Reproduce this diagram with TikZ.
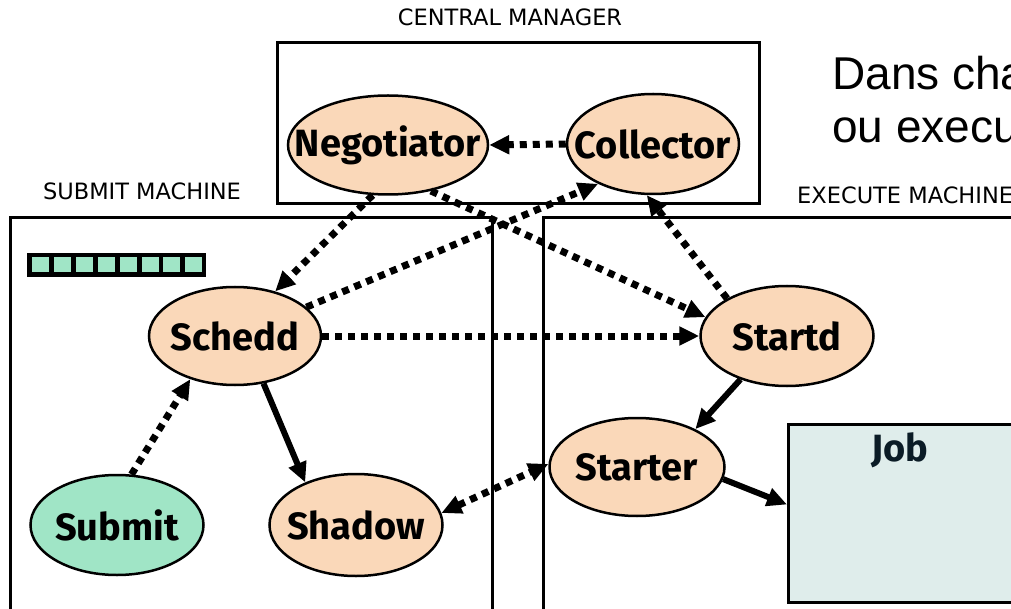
\documentclass[tikz,border=0pt]{standalone}
\usepackage{fontspec}
\setmainfont{DejaVu Sans}
\newfontfamily\nodefont{Fira Sans}
\newfontfamily\bigfont{Liberation Sans}
\usetikzlibrary{arrows.meta,calc,shapes.geometric}
\definecolor{peach}{HTML}{FAD8B9}
\definecolor{mint}{HTML}{A0E5C6}
\definecolor{jobfill}{HTML}{DFEDEB}
\definecolor{jobtext}{HTML}{0B1C26}
\newcommand{\ztext}[1]{\makebox[0pt]{#1}}
\tikzset{
  >={Triangle[length=20pt,width=18pt]},
  proc/.style={ellipse, draw=black, line width=2.5pt, fill=peach, inner sep=0pt,
    font=\nodefont\bfseries\fontsize{38}{38}\selectfont},
  mach/.style={draw=black, line width=3pt},
  lbl/.style={font=\fontsize{22.5}{22.5}\selectfont, inner sep=0pt},
  big/.style={font=\bigfont\fontsize{46}{46}\selectfont, anchor=base west, inner sep=0pt},
  dotarrow/.style={line width=7pt, dash pattern=on 7pt off 6pt, ->},
  solidarrow/.style={line width=6pt, ->},
}
\begin{document}
\begin{tikzpicture}[x=1pt,y=-1pt]
\useasboundingbox (0,0) rectangle (1011,609);
\clip (0,0) rectangle (1011,609);
\fill[white] (0,0) rectangle (1011,609);
% machine boxes
\draw[mach] (277,43) rectangle (759,204);
\draw[mach] (10,218) rectangle (492,640);
\draw[mach] (543,218) rectangle (1040,640);
% labels
\node[lbl] (lcm) at (510,17) {CENTRAL MANAGER};
\node[lbl] (lsm) at (142,191) {SUBMIT MACHINE};
\node[lbl, anchor=west] (lem) at (797,195) {EXECUTE MACHINE};
\node[big] (t1) at (832,90) {Dans cha};
\node[big] (t2) at (832,143) {ou execu};
% queue
\fill[black] (27,253) rectangle (206,277);
\foreach \i in {0,...,7} \fill[mint] (32+\i*21.9,257) rectangle ++(17,15);
% job box
\node[rectangle, draw=black, line width=3pt, fill=jobfill, minimum width=253pt, minimum height=178pt, anchor=north west, inner sep=0pt] (job) at (787,423) {};
\node[font=\nodefont\bfseries\fontsize{38}{38}\selectfont, text=jobtext] (joblbl) at (900,450) {Job};
% daemons
\node[proc, minimum width=200pt, minimum height=99pt] (neg) at (388,145) {\ztext{Negotiator}};
\node[proc, minimum width=172pt, minimum height=100pt] (coll) at (653,144) {\ztext{Collector}};
\node[proc, minimum width=172pt, minimum height=98pt] (schedd) at (235,336) {\ztext{Schedd}};
\node[proc, minimum width=173pt, minimum height=100pt] (startd) at (787,336) {\ztext{Startd}};
\node[proc, minimum width=175pt, minimum height=98pt] (starter) at (637,467) {\ztext{Starter}};
\node[proc, minimum width=173pt, minimum height=102pt] (shadow) at (356,525) {\ztext{Shadow}};
\node[proc, fill=mint, minimum width=173pt, minimum height=100pt] (submit) at (117,525) {\ztext{Submit}};
% connectors
\draw[dotarrow] (coll.west) -- (neg.east);
\draw[dotarrow] (neg.253) -- (schedd.48);
\draw[dotarrow] (neg.313) -- (startd.167);
\draw[dotarrow] (schedd.22) -- (coll.216);
\draw[dotarrow] (schedd.east) -- (startd.west);
\draw[dotarrow] (startd.148) -- (coll.263);
\draw[dotarrow] (submit.74) -- (schedd.224);
\draw[solidarrow] (schedd.301) -- (shadow.140);
\draw[dotarrow, <->] (shadow.8) -- (starter.178);
\draw[solidarrow] (startd.223) -- (starter.33);
\draw[solidarrow] (starter.352) -- ([yshift=9pt]job.west);
\end{tikzpicture}
\end{document}
